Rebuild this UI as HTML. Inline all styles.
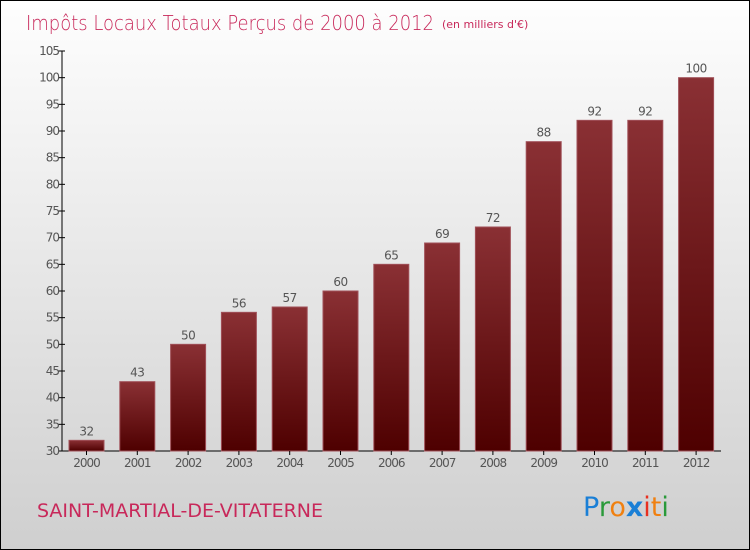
<!DOCTYPE html>
<html><head><meta charset="utf-8"><style>
body{margin:0}
#c{width:750px;height:550px;position:relative;overflow:hidden;box-sizing:border-box;border:1px solid #000;background:linear-gradient(#fefefe,#cfcfcf);font-family:"DejaVu Sans","Liberation Sans",sans-serif}
svg text{font-family:"DejaVu Sans","Liberation Sans",sans-serif}
</style></head><body>
<div id="c">
<svg width="750" height="550" id="s">
<defs><linearGradient id="g" x1="0" y1="0" x2="0" y2="1"><stop offset="0" stop-color="#8a3034"/><stop offset="1" stop-color="#4e0000"/></linearGradient></defs>
<text x="25" y="29" font-size="20" fill="#c8285a" style="font-weight:200" textLength="408" lengthAdjust="spacingAndGlyphs">Impôts Locaux Totaux Perçus de 2000 à 2012</text>
<text x="441" y="27" font-size="11" fill="#c8285a">(en milliers d'€)</text>
<text x="36" y="516" font-size="19" fill="#c8285a" textLength="286" lengthAdjust="spacingAndGlyphs">SAINT-MARTIAL-DE-VITATERNE</text>
<g font-size="27">
<text x="582" y="515"><tspan fill="#1a7fd6">P</tspan><tspan fill="#2a9a3a">r</tspan><tspan fill="#f08010">o</tspan><tspan fill="#1a7fd6" font-weight="bold">x</tspan><tspan fill="#e83020">i</tspan><tspan fill="#f08010">t</tspan><tspan fill="#2a9a3a">i</tspan></text>
</g>
<g id="plot"></g>
</svg>
</div>
<script>
const categories=["2000","2001","2002","2003","2004","2005","2006","2007","2008","2009","2010","2011","2012"];
const values=[32,43,50,56,57,60,65,69,72,88,92,92,100];
const yTicks=[30,35,40,45,50,55,60,65,70,75,80,85,90,95,100,105];
const ns="http://www.w3.org/2000/svg";
const g=document.getElementById('plot');
const y=v=>450-(v-30)*(400/75);
const x=i=>85.5+i*50.8;
function mk(t,a,p){const e=document.createElementNS(ns,t);for(const k in a)e.setAttribute(k,a[k]);(p||g).appendChild(e);return e;}
const ya=mk('line',{x1:61,y1:50,x2:61,y2:450,stroke:'#000'});


const xa=mk('line',{x1:61,y1:450,x2:720,y2:450,stroke:'#000'});


yTicks.forEach(v=>{
 const tk=mk('line',{x1:57,y1:y(v),x2:64,y2:y(v),stroke:'#000'});
 
 
 const t=mk('text',{x:58,y:y(v)+4,'font-size':12,fill:'#555','text-anchor':'end','letter-spacing':'-1'});
 t.textContent=v;
 
 
});
values.forEach((v,i)=>{
 const b=mk('rect',{x:x(i)-17.5,y:y(v),width:35,height:450-y(v),fill:'url(#g)',stroke:'#a05058','stroke-width':1});
 
 
 const l=mk('text',{x:x(i),y:y(v)-5,'font-size':12,fill:'#555','text-anchor':'middle','letter-spacing':'-0.5'});
 l.textContent=v;
 
 
 const tk=mk('line',{x1:x(i),y1:450,x2:x(i),y2:454,stroke:'#000'});
 
 
 const c=mk('text',{x:x(i),y:466,'font-size':12,fill:'#555','text-anchor':'middle','letter-spacing':'-1'});
 c.textContent=categories[i];
 
 
});
</script>
</body></html>
